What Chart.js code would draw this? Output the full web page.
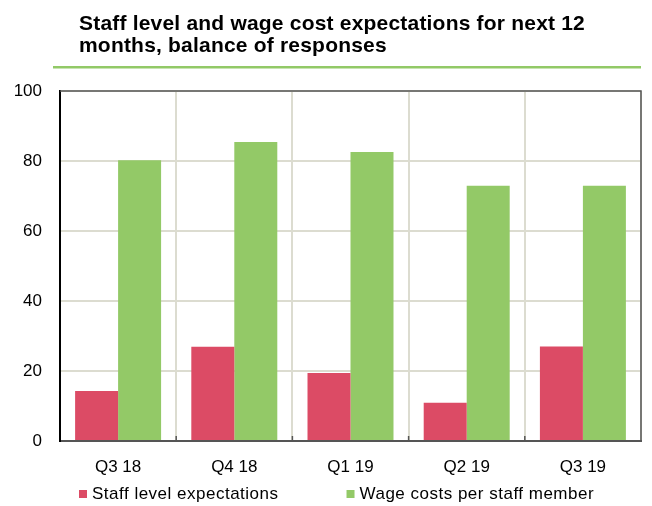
<!DOCTYPE html>
<html>
<head>
<meta charset="utf-8">
<script src="https://cdn.jsdelivr.net/npm/chart.js@4.4.0/dist/chart.umd.min.js"></script>
<style>
  html,body{margin:0;padding:0;background:#fff;}
  #wrap{width:652px;height:506px;position:relative;}
</style>
</head>
<body>
<div id="wrap"><canvas id="c" width="652" height="506"></canvas></div>
<script>
// quarterly survey: staff level vs wage cost expectations (balance of responses)
const quarters = ["Q3 18", "Q4 18", "Q1 19", "Q2 19", "Q3 19"];
const staffLevel = [14.3, 26.9, 19.4, 10.9, 27];
const wageCosts = [80.2, 85.4, 82.6, 72.9, 72.9];
const yTicks = [0, 20, 40, 60, 80, 100];

const RED = "#dc4b65", GREEN = "#93c967", GRID = "#dcdcd0";
const FONT = "'Liberation Sans', Arial, sans-serif";

// title + green rule on top, dark frame and inward category ticks on the plot
const frame = {
  id: "frame",
  beforeDraw(chart){
    const ctx = chart.ctx;
    ctx.save();
    ctx.fillStyle = "#000";
    ctx.font = "bold 21px " + FONT;
    ctx.letterSpacing = "0.2px";
    ctx.textBaseline = "alphabetic";
    ctx.fillText("Staff level and wage cost expectations for next 12", 79, 30);
    ctx.fillText("months, balance of responses", 79, 52);
    ctx.fillStyle = "#92c967";
    ctx.fillRect(53, 66, 588, 2.5);
    ctx.restore();
  },
  afterDraw(chart){
    const a = chart.chartArea, ctx = chart.ctx, x = chart.scales.x;
    ctx.save();
    ctx.strokeStyle = "#555";
    ctx.lineWidth = 1.5;
    ctx.beginPath();
    ctx.moveTo(a.left, a.top); ctx.lineTo(a.right, a.top); ctx.lineTo(a.right, a.bottom);
    for (let i = 1; i < quarters.length; i++) {
      const px = (x.getPixelForValue(i - 1) + x.getPixelForValue(i)) / 2;
      ctx.moveTo(px, a.bottom); ctx.lineTo(px, a.bottom - 5);
    }
    ctx.stroke();
    ctx.restore();
  }
};

// legend row under the axis labels, built from the datasets
const legendRow = {
  id: "legendRow",
  afterDraw(chart){
    const ctx = chart.ctx;
    ctx.save();
    ctx.font = "17px " + FONT;
    ctx.letterSpacing = "0.5px";
    ctx.textBaseline = "middle";
    let lx = 79;
    const ly = 494;
    chart.data.datasets.forEach(ds => {
      ctx.fillStyle = ds.backgroundColor;
      ctx.fillRect(lx, ly - 4, 8, 8);
      ctx.fillStyle = "#000";
      ctx.fillText(ds.label, lx + 13, ly);
      lx += 13 + ctx.measureText(ds.label).width + 68;
    });
    ctx.restore();
  }
};

new Chart(document.getElementById("c"), {
  type: "bar",
  data: {
    labels: quarters,
    datasets: [
      { label: "Staff level expectations", data: staffLevel, backgroundColor: RED },
      { label: "Wage costs per staff member", data: wageCosts, backgroundColor: GREEN }
    ]
  },
  options: {
    animation: false, responsive: false, maintainAspectRatio: false,
    layout: { padding: { top: 91, right: 11, left: 0, bottom: 25 } },
    datasets: { bar: { categoryPercentage: 0.74, barPercentage: 1.0 } },
    plugins: {
      tooltip: { enabled: false },
      legend: { display: false }
    },
    scales: {
      x: {
        grid: { offset: true, color: GRID, lineWidth: 2, drawTicks: false },
        border: { color: "#555", width: 2 },
        ticks: { color: "#000", font: { family: FONT, size: 17 }, padding: 16 },
        afterFit(s){ s.height = 40; }
      },
      y: {
        min: 0, max: 100,
        afterBuildTicks(s){ s.ticks = yTicks.map(v => ({ value: v })); },
        grid: { color: GRID, lineWidth: 2, drawTicks: false },
        border: { color: "#000", width: 2 },
        ticks: { color: "#000", font: { family: FONT, size: 17 }, padding: 18 },
        afterFit(s){ s.width = 60; }
      }
    }
  },
  plugins: [frame, legendRow]
});
</script>
</body>
</html>
